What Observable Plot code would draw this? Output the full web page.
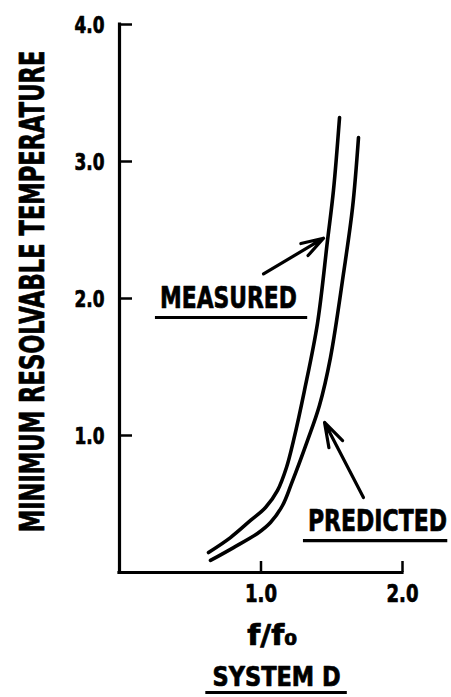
<!DOCTYPE html>
<html><head><meta charset="utf-8">
<script src="https://cdn.jsdelivr.net/npm/d3@7"></script>
<script src="https://cdn.jsdelivr.net/npm/@observablehq/plot@0.6"></script>
<style>body{margin:0;background:#fff}</style>
</head><body><div id="chart"></div>
<script>
// Curves (f/f0 vs minimum resolvable temperature)
const measuredX = [0.629, 0.784, 0.926, 1.032, 1.117, 1.180, 1.230, 1.307, 1.399, 1.470, 1.512, 1.555];
const measuredY = [0.146, 0.255, 0.380, 0.474, 0.599, 0.766, 0.964, 1.328, 1.818, 2.423, 2.788, 3.321];
const predictedX = [0.643, 0.806, 0.975, 1.067, 1.152, 1.216, 1.329, 1.413, 1.491, 1.583, 1.647, 1.689];
const predictedY = [0.088, 0.182, 0.285, 0.365, 0.489, 0.650, 0.964, 1.219, 1.569, 2.182, 2.664, 3.175];

// Ticks
const yTicks = [1, 2, 3, 4];
const yTickLabels = ["1.0", "2.0", "3.0", "4.0"];
const xTicks = [1, 2];
const xTickLabels = ["1.0", "2.0"];

// Annotations
const curveLabels = ["MEASURED", "PREDICTED"];
const labelX = [0.77, 1.823];
const labelY = [2.0, 0.372];
const underlineX1 = [0.254, 1.30];
const underlineX2 = [1.33, 2.32];
const arrowX1 = [1.018, 1.724];
const arrowY1 = [2.18, 0.547];
const arrowX2 = [1.442, 1.449];
const arrowY2 = [2.44, 1.095];

const yTitle = "MINIMUM RESOLVABLE TEMPERATURE";
const xTitle = "f/f₀";
const caption = "SYSTEM D";
const xTitlePos = [1.08];
const captionPos = [1.11];
const captionUnderline = [0.61, 1.61];

const measured = measuredX.map((x, i) => ({x, y: measuredY[i]}));
const predicted = predictedX.map((x, i) => ({x, y: predictedY[i]}));
const ann = curveLabels.map((t, i) => ({t, x: labelX[i], y: labelY[i], u1: underlineX1[i], u2: underlineX2[i],
  ax1: arrowX1[i], ay1: arrowY1[i], ax2: arrowX2[i], ay2: arrowY2[i]}));

const FONT = "'DejaVu Sans Condensed', 'DejaVu Sans', sans-serif";
const W = 451, H = 697, ML = 119, MR = 49, MT = 24, MB = 125;
const heavy = {fontWeight: "bold", fill: "#000", stroke: "#000", strokeWidth: 0.7};

const chart = Plot.plot({
  width: W, height: H,
  marginLeft: ML, marginRight: MR, marginTop: MT, marginBottom: MB,
  style: {fontFamily: FONT, fontWeight: "bold", background: "#fff", color: "#000"},
  x: {domain: [0, 2], axis: null},
  y: {domain: [0, 4], axis: null},
  marks: [
    // axes
    Plot.ruleX([0], {y1: 0, y2: 4, stroke: "#000", strokeWidth: 3.2, strokeLinecap: "square"}),
    Plot.ruleY([0], {x1: 0, x2: 2, stroke: "#000", strokeWidth: 3.2, strokeLinecap: "square"}),
    Plot.tickY(yTicks, {y: d => d, stroke: "#000", strokeWidth: 2.5, insetRight: W - ML - MR - 13}),
    Plot.tickX(xTicks, {x: d => d, stroke: "#000", strokeWidth: 2.5, insetTop: H - MT - MB - 11}),
    Plot.text(yTicks, {ariaLabel: () => "ytl", x: 0, y: d => d, text: (d, i) => yTickLabels[i], textAnchor: "end", dx: -15, dy: 1,
      fontSize: 23, ...heavy}),
    Plot.text(xTicks, {ariaLabel: () => "xtl", x: d => d, y: 0, text: (d, i) => xTickLabels[i], dy: 21,
      fontSize: 25, ...heavy}),
    // titles
    Plot.text([yTitle], {ariaLabel: () => "ytitle", frameAnchor: "left", textAnchor: "middle", dx: -86, dy: -7,
      text: d => d, rotate: -90, fontSize: 34, ...heavy}),
    Plot.text([xTitle], {ariaLabel: () => "xtitle", x: xTitlePos, y: 0, dy: 64, text: () => xTitle,
      fontSize: 28, ...heavy}),
    Plot.text([caption], {ariaLabel: () => "caption", x: captionPos, y: 0, dy: 105, text: () => caption,
      fontSize: 27, ...heavy}),
    Plot.ruleY([0], {x1: captionUnderline[0], x2: captionUnderline[1], dy: 120, stroke: "#000", strokeWidth: 3}),
    // curves
    Plot.line(measured, {x: "x", y: "y", curve: "catmull-rom", stroke: "#000", strokeWidth: 3.6}),
    Plot.line(predicted, {x: "x", y: "y", curve: "catmull-rom", stroke: "#000", strokeWidth: 3.6}),
    // annotations
    Plot.text(ann, {ariaLabel: () => "curvelabel", x: "x", y: "y", text: "t", fontSize: 31, ...heavy}),
    Plot.ruleY(ann, {y: "y", x1: "u1", x2: "u2", dy: 19, stroke: "#000", strokeWidth: 3.2}),
    Plot.arrow(ann, {x1: "ax1", y1: "ay1", x2: "ax2", y2: "ay2", stroke: "#000", strokeWidth: 3.2,
      headLength: 12, headAngle: 35})
  ]
});

document.getElementById("chart").appendChild(chart);

// condense the lettering (narrow typewriter-style font of the original) with a horizontal scale
const root = d3.select(chart);
function fit(label, widths) {
  const nodes = root.selectAll(`text[aria-label="${label}"], g[aria-label="${label}"] text`).nodes();
  nodes.forEach((node, i) => {
    const w = Array.isArray(widths) ? widths[i] : widths;
    const len = node.getComputedTextLength();
    if (!len) return;
    const sx = w / len;
    const t = node.getAttribute("transform") || "";
    node.setAttribute("transform", `${t} scale(${sx},1)`.trim());
  });
}
fit("ytl", 30);
fit("xtl", 32);
fit("ytitle", 482);
fit("xtitle", 50);
fit("caption", 128);
fit("curvelabel", [137, 139]);
</script>
</body></html>
